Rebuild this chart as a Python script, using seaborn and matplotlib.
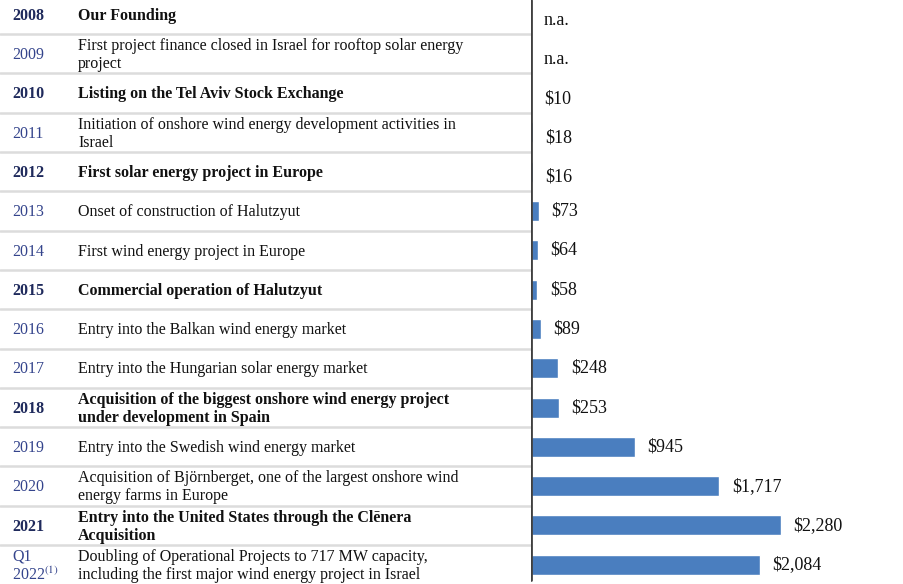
import numpy as np
import pandas as pd
import seaborn as sns
import matplotlib.pyplot as plt
from matplotlib.lines import Line2D
from matplotlib.transforms import blended_transform_factory

# dados da tabela
anos = ['2008', '2009', '2010', '2011', '2012', '2013', '2014', '2015',
        '2016', '2017', '2018', '2019', '2020', '2021', 'Q1 2022']
anos_texto = ['2008', '2009', '2010', '2011', '2012', '2013', '2014', '2015',
              '2016', '2017', '2018', '2019', '2020', '2021', 'Q1\n2022$^{(1)}$']
eventos = [
    'Our Founding',
    'First project finance closed in Israel for rooftop solar energy\nproject',
    'Listing on the Tel Aviv Stock Exchange',
    'Initiation of onshore wind energy development activities in\nIsrael',
    'First solar energy project in Europe',
    'Onset of construction of Halutzyut',
    'First wind energy project in Europe',
    'Commercial operation of Halutzyut',
    'Entry into the Balkan wind energy market',
    'Entry into the Hungarian solar energy market',
    'Acquisition of the biggest onshore wind energy project\nunder development in Spain',
    'Entry into the Swedish wind energy market',
    'Acquisition of Björnberget, one of the largest onshore wind\nenergy farms in Europe',
    'Entry into the United States through the Clēnera\nAcquisition',
    'Doubling of Operational Projects to 717 MW capacity,\nincluding the first major wind energy project in Israel',
]
negrito = [True, False, True, False, True, False, False, True,
           False, False, True, False, False, True, False]
valores = [np.nan, np.nan, 10, 18, 16, 73, 64, 58, 89, 248, 253, 945, 1717, 2280, 2084]
rotulos = ['n.a.', 'n.a.', '$10', '$18', '$16', '$73', '$64', '$58', '$89',
           '$248', '$253', '$945', '$1,717', '$2,280', '$2,084']

df = pd.DataFrame({'ano': anos, 'valor': valores})

sns.set_theme(style='white')
plt.rcParams['font.family'] = ['Liberation Serif', 'DejaVu Serif']
plt.rcParams['mathtext.fontset'] = 'stix'

fig = plt.figure(figsize=(9.04, 5.84), dpi=100)
ax = fig.add_axes([531 / 904, 0, 373 / 904, 1])

sns.barplot(data=df, x='valor', y='ano', order=anos, orient='h',
            color='#4A7EBF', width=0.51, saturation=1, ax=ax)

ax.set_xlim(0, 373 * 9.12)
ax.set_ylim(14.49, -0.37)
ax.set_xlabel('')
ax.set_ylabel('')
ax.set_xticks([])
ax.set_yticks([])
for s in ax.spines.values():
    s.set_visible(False)

ax.axvline(0, ymin=0.007, ymax=1, color='#404040', lw=2.0, zorder=5)

trans = blended_transform_factory(fig.transFigure, ax.transData)

# linhas separadoras
for k in range(1, len(anos)):
    fig.add_artist(Line2D([0, 903 / 904], [k - 0.5, k - 0.5], transform=trans,
                          color='#dcdcdc', lw=1.8, zorder=0))

for i in range(len(anos)):
    peso = 'bold' if negrito[i] else 'normal'
    cor_ano = '#1f2a5c' if negrito[i] else '#34448c'
    ax.text(12 / 904, i + 0.03, anos_texto[i], transform=trans, ha='left', va='center',
            fontsize=11.5, fontweight=peso, color=cor_ano, linespacing=1.15)
    ax.text(78 / 904, i + 0.03, eventos[i], transform=trans, ha='left', va='center',
            fontsize=11.5, fontweight=peso, color='#111111', linespacing=1.15)
    x = 0 if np.isnan(valores[i]) else valores[i]
    # sem barra visível o rótulo fica um pouco mais abaixo
    dy = -4 if x < 50 else 0
    ax.annotate(rotulos[i], (x, i), xytext=(9.0, dy), textcoords='offset points',
                ha='left', va='center', fontsize=13, color='#111111',
                annotation_clip=False)

fig.savefig('out.png', dpi=100)
